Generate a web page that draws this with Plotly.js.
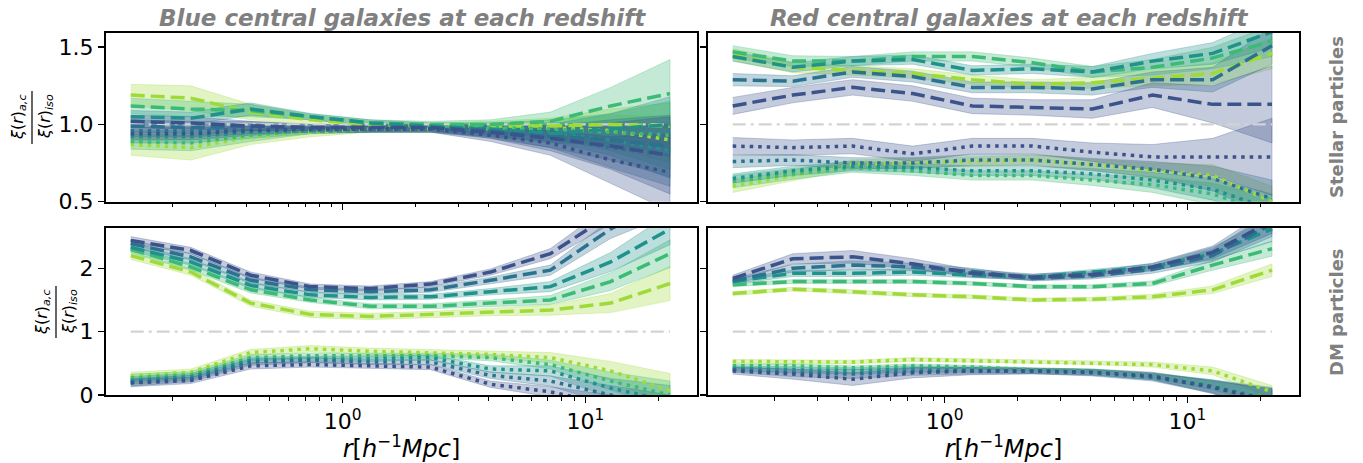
<!DOCTYPE html>
<html>
<head>
<meta charset="utf-8">
<script src="https://cdn.plot.ly/plotly-3.0.1.min.js"></script>
<style>html,body{margin:0;padding:0;background:#fff;}#chart{width:1363px;height:463px;}</style>
</head>
<body>
<div id="chart"></div>
<script>
// ---------------- DATA ----------------
const r = [0.134, 0.237, 0.418, 0.738, 1.30, 2.30, 4.06, 7.17, 12.7, 22.3];
const redshiftColors = ['#3b528b', '#2c728e', '#21918c', '#3bbb75', '#a0da39'];

// Blue centrals, stellar particles (top-left)
const blueStellarDashed = [
  [1.02, 1.01, 0.99, 0.98, 0.98, 0.98, 0.95, 0.91, 0.86, 0.80],
  [0.99, 0.98, 0.99, 0.98, 0.98, 0.98, 0.96, 0.92, 0.90, 0.86],
  [1.05, 1.04, 1.10, 1.05, 1.01, 0.99, 0.97, 0.94, 0.97, 1.00],
  [1.12, 1.10, 1.09, 1.05, 1.01, 1.00, 1.00, 1.02, 1.12, 1.20],
  [1.19, 1.17, 1.08, 1.03, 1.00, 0.99, 0.99, 0.99, 1.00, 0.99]
];
const blueStellarDotted = [
  [0.94, 0.94, 0.96, 0.97, 0.97, 0.97, 0.93, 0.88, 0.77, 0.69],
  [0.96, 0.96, 0.97, 0.97, 0.97, 0.97, 0.95, 0.92, 0.85, 0.80],
  [0.92, 0.92, 0.95, 0.96, 0.97, 0.97, 0.96, 0.95, 0.90, 0.83],
  [0.89, 0.88, 0.93, 0.96, 0.97, 0.98, 0.98, 0.97, 0.95, 0.93],
  [0.87, 0.85, 0.92, 0.95, 0.97, 0.97, 0.97, 0.98, 0.96, 0.90]
];
const blueStellarErr = [
  [0.04, 0.04, 0.03, 0.02, 0.02, 0.02, 0.04, 0.08, 0.15, 0.25],
  [0.04, 0.04, 0.03, 0.02, 0.02, 0.02, 0.04, 0.07, 0.13, 0.20],
  [0.04, 0.04, 0.04, 0.02, 0.02, 0.02, 0.04, 0.06, 0.10, 0.18],
  [0.05, 0.05, 0.04, 0.02, 0.02, 0.02, 0.03, 0.06, 0.12, 0.22],
  [0.07, 0.08, 0.05, 0.03, 0.02, 0.02, 0.03, 0.05, 0.10, 0.15]
];

// Red centrals, stellar particles (top-right)
const redStellarDashed = [
  [1.12, 1.19, 1.24, 1.20, 1.12, 1.11, 1.10, 1.19, 1.13, 1.13],
  [1.29, 1.28, 1.34, 1.31, 1.24, 1.24, 1.23, 1.29, 1.29, 1.51],
  [1.44, 1.37, 1.41, 1.42, 1.35, 1.36, 1.34, 1.41, 1.46, 1.60],
  [1.47, 1.41, 1.41, 1.44, 1.44, 1.40, 1.34, 1.37, 1.43, 1.54],
  [1.45, 1.37, 1.35, 1.33, 1.29, 1.26, 1.27, 1.30, 1.33, 1.46]
];
const redStellarDotted = [
  [0.86, 0.85, 0.86, 0.81, 0.86, 0.86, 0.82, 0.79, 0.79, 0.79],
  [0.76, 0.77, 0.75, 0.75, 0.77, 0.77, 0.74, 0.71, 0.65, 0.52],
  [0.65, 0.70, 0.73, 0.72, 0.70, 0.70, 0.68, 0.64, 0.58, 0.45],
  [0.63, 0.68, 0.72, 0.70, 0.67, 0.67, 0.64, 0.61, 0.55, 0.42],
  [0.60, 0.67, 0.74, 0.75, 0.76, 0.77, 0.74, 0.70, 0.67, 0.50]
];
const redStellarErr = [
  [0.055, 0.05, 0.05, 0.05, 0.05, 0.05, 0.06, 0.08, 0.12, 0.25],
  [0.04, 0.035, 0.035, 0.035, 0.035, 0.035, 0.04, 0.05, 0.08, 0.12],
  [0.03, 0.03, 0.03, 0.03, 0.03, 0.03, 0.035, 0.05, 0.07, 0.10],
  [0.04, 0.035, 0.03, 0.03, 0.03, 0.03, 0.035, 0.05, 0.07, 0.10],
  [0.04, 0.035, 0.03, 0.03, 0.03, 0.03, 0.035, 0.05, 0.07, 0.10]
];

// Blue centrals, DM particles (bottom-left)
const blueDMDashed = [
  [2.44, 2.28, 1.89, 1.71, 1.68, 1.75, 1.94, 2.23, 2.85, 3.40],
  [2.39, 2.18, 1.81, 1.66, 1.63, 1.66, 1.81, 1.97, 2.62, 3.10],
  [2.33, 2.10, 1.73, 1.58, 1.54, 1.55, 1.63, 1.71, 2.10, 2.62],
  [2.30, 2.02, 1.66, 1.50, 1.40, 1.40, 1.45, 1.50, 1.79, 2.23],
  [2.20, 1.94, 1.45, 1.27, 1.24, 1.27, 1.31, 1.34, 1.45, 1.76]
];
const blueDMDotted = [
  [0.19, 0.23, 0.46, 0.48, 0.46, 0.44, 0.17, 0.05, -0.15, -0.40],
  [0.20, 0.26, 0.52, 0.55, 0.52, 0.52, 0.31, 0.22, 0.00, -0.25],
  [0.23, 0.29, 0.55, 0.57, 0.57, 0.59, 0.41, 0.38, 0.11, -0.10],
  [0.27, 0.32, 0.59, 0.62, 0.62, 0.62, 0.59, 0.48, 0.22, 0.00],
  [0.30, 0.36, 0.67, 0.73, 0.69, 0.67, 0.64, 0.59, 0.38, 0.07]
];
const blueDMErr = [
  [0.06, 0.05, 0.05, 0.04, 0.04, 0.04, 0.05, 0.08, 0.15, 0.25],
  [0.06, 0.05, 0.05, 0.04, 0.04, 0.04, 0.05, 0.08, 0.15, 0.25],
  [0.06, 0.05, 0.05, 0.04, 0.04, 0.04, 0.05, 0.08, 0.15, 0.25],
  [0.06, 0.05, 0.05, 0.04, 0.04, 0.04, 0.05, 0.07, 0.14, 0.22],
  [0.06, 0.05, 0.05, 0.05, 0.05, 0.05, 0.06, 0.08, 0.15, 0.27]
];

// Red centrals, DM particles (bottom-right)
const redDMDashed = [
  [1.84, 2.15, 2.18, 2.07, 1.92, 1.86, 1.90, 2.02, 2.25, 2.75],
  [1.80, 2.00, 2.05, 2.02, 1.95, 1.84, 1.88, 1.98, 2.20, 2.70],
  [1.79, 1.92, 1.92, 1.94, 1.89, 1.86, 1.94, 2.02, 2.23, 2.62],
  [1.74, 1.79, 1.79, 1.79, 1.76, 1.71, 1.71, 1.76, 2.05, 2.31],
  [1.60, 1.67, 1.63, 1.58, 1.55, 1.50, 1.51, 1.55, 1.66, 1.97]
];
const redDMDotted = [
  [0.38, 0.33, 0.25, 0.35, 0.38, 0.38, 0.36, 0.30, 0.12, -0.10],
  [0.40, 0.35, 0.33, 0.37, 0.38, 0.38, 0.35, 0.28, 0.13, -0.10],
  [0.42, 0.40, 0.38, 0.41, 0.40, 0.38, 0.36, 0.29, 0.14, -0.08],
  [0.46, 0.46, 0.43, 0.46, 0.44, 0.40, 0.38, 0.31, 0.16, -0.05],
  [0.53, 0.52, 0.52, 0.56, 0.54, 0.53, 0.51, 0.48, 0.38, 0.05]
];
const redDMErr = [
  [0.05, 0.08, 0.10, 0.08, 0.06, 0.05, 0.05, 0.06, 0.10, 0.20],
  [0.04, 0.06, 0.07, 0.06, 0.05, 0.04, 0.05, 0.06, 0.10, 0.20],
  [0.04, 0.05, 0.05, 0.05, 0.04, 0.04, 0.04, 0.05, 0.10, 0.20],
  [0.03, 0.03, 0.03, 0.03, 0.03, 0.03, 0.03, 0.04, 0.08, 0.12],
  [0.03, 0.03, 0.03, 0.03, 0.03, 0.03, 0.03, 0.04, 0.06, 0.10]
];

const refLevel = [1, 1];
const xTickVals = [1, 10];
const xTickText = ['10<sup>0</sup>', '10<sup>1</sup>'];
const xMinorVals = [0.2,0.3,0.4,0.5,0.6,0.7,0.8,0.9,2,3,4,5,6,7,8,9,20];
const yTopTicks = [0.5, 1.0, 1.5];
const yTopText = ['0.5', '1.0', '1.5'];
const yBotTicks = [0, 1, 2];
const yBotText = ['0', '1', '2'];

// ---------------- BUILD ----------------
function hexToRgba(hex, a) {
  const n = parseInt(hex.slice(1), 16);
  return 'rgba(' + ((n >> 16) & 255) + ',' + ((n >> 8) & 255) + ',' + (n & 255) + ',' + a + ')';
}

const traces = [];
function addPanel(xa, ya, dashed, dotted, err) {
  const rr = r.slice().reverse();
  for (let c = 4; c >= 0; c--) {
    [dashed[c], dotted[c]].forEach(vals => {
      const up = vals.map((v, i) => v + err[c][i]);
      const lo = vals.map((v, i) => v - err[c][i]).reverse();
      traces.push({
        x: r.concat(rr), y: up.concat(lo), xaxis: xa, yaxis: ya,
        mode: 'lines', fill: 'toself', fillcolor: hexToRgba(redshiftColors[c], 0.3),
        line: {color: hexToRgba(redshiftColors[c], 0.35), width: 0.8},
        hoverinfo: 'skip', showlegend: false
      });
    });
  }
  traces.push({
    x: [r[0], r[r.length - 1]], y: refLevel, xaxis: xa, yaxis: ya, mode: 'lines',
    line: {color: '#d3d3d3', width: 2.2, dash: '13px,5px,3px,5px'}, showlegend: false
  });
  for (let c = 4; c >= 0; c--) {
    traces.push({
      x: r, y: dashed[c], xaxis: xa, yaxis: ya, mode: 'lines',
      line: {color: redshiftColors[c], width: 3.5, dash: '14px,6px'}, showlegend: false
    });
    traces.push({
      x: r, y: dotted[c], xaxis: xa, yaxis: ya, mode: 'lines',
      line: {color: redshiftColors[c], width: 3.5, dash: '3.5px,5px'}, showlegend: false
    });
  }
}
addPanel('x', 'y', blueStellarDashed, blueStellarDotted, blueStellarErr);
addPanel('x2', 'y2', redStellarDashed, redStellarDotted, redStellarErr);
addPanel('x3', 'y3', blueDMDashed, blueDMDotted, blueDMErr);
addPanel('x4', 'y4', redDMDashed, redDMDotted, redDMErr);

const W = 1363, H = 463;
const px = v => v / W, py = v => 1 - v / H;
const xr = [Math.log10(0.106), Math.log10(28.8)];
const FONT = 'DejaVu Sans, sans-serif';

function xAxis(domain, anchor, labels) {
  const ax = {
    type: 'log', range: xr, domain: domain, anchor: anchor,
    showline: true, mirror: true, linecolor: 'black', linewidth: 2,
    showgrid: false, zeroline: false,
    tickmode: 'array', tickvals: xTickVals, ticktext: xTickText,
    ticks: 'outside', ticklen: 6, tickwidth: 1.5, tickcolor: 'black',
    showticklabels: labels, tickfont: {family: FONT, size: 22, color: 'black'},
    minor: {tickmode: 'array', tickvals: xMinorVals, ticks: 'outside', ticklen: 3.5, tickwidth: 1, tickcolor: 'black', showgrid: false}
  };
  if (labels) {
    ax.title = {text: '<i>r</i>[<i>h</i><sup>−1</sup><i>Mpc</i>]', font: {family: FONT, size: 24, color: 'black'}, standoff: 8};
  }
  return ax;
}
function yAxis(domain, anchor, range, tv, tt, labels) {
  return {
    range: range, domain: domain, anchor: anchor,
    showline: true, mirror: true, linecolor: 'black', linewidth: 2,
    showgrid: false, zeroline: false,
    tickmode: 'array', tickvals: tv, ticktext: tt,
    ticks: 'outside', ticklen: 6, tickwidth: 1.5, tickcolor: 'black',
    showticklabels: labels, tickfont: {family: FONT, size: 22, color: 'black'}
  };
}

const xL = [px(106), px(697)], xR = [px(708), px(1299)];
const yT = [py(201.7), py(33)], yB = [py(395), py(227.7)];
const topRange = [0.5, 1.592], botRange = [0, 2.64];

const fracFont = {family: FONT, size: 16, color: 'black'};
const num = '<i>ξ</i>(<i>r</i>)<sub><i>a,c</i></sub>';
const den = '<i>ξ</i>(<i>r</i>)<sub><i>iso</i></sub>';
const titleFont = {family: FONT, size: 23, color: '#808080', weight: 'bold', style: 'italic'};
const sideFont = {family: FONT, size: 18, color: '#808080', weight: 'bold'};

const layout = {
  width: W, height: H,
  margin: {l: 0, r: 0, t: 0, b: 0},
  paper_bgcolor: 'white', plot_bgcolor: 'white',
  showlegend: false,
  xaxis: xAxis(xL, 'y', false),
  xaxis2: xAxis(xR, 'y2', false),
  xaxis3: xAxis(xL, 'y3', true),
  xaxis4: xAxis(xR, 'y4', true),
  yaxis: yAxis(yT, 'x', topRange, yTopTicks, yTopText, true),
  yaxis2: yAxis(yT, 'x2', topRange, yTopTicks, yTopText, false),
  yaxis3: yAxis(yB, 'x3', botRange, yBotTicks, yBotText, true),
  yaxis4: yAxis(yB, 'x4', botRange, yBotTicks, yBotText, false),
  annotations: [
    {text: 'Blue central galaxies at each redshift', x: px(402), y: py(18), xref: 'paper', yref: 'paper', showarrow: false, font: titleFont, xanchor: 'center', yanchor: 'middle'},
    {text: 'Red central galaxies at each redshift', x: px(1009), y: py(18), xref: 'paper', yref: 'paper', showarrow: false, font: titleFont, xanchor: 'center', yanchor: 'middle'},
    {text: 'Stellar particles', x: px(1336), y: py(117), xref: 'paper', yref: 'paper', showarrow: false, font: sideFont, textangle: -90, xanchor: 'center', yanchor: 'middle'},
    {text: 'DM particles', x: px(1336), y: py(312), xref: 'paper', yref: 'paper', showarrow: false, font: sideFont, textangle: -90, xanchor: 'center', yanchor: 'middle'},
    {text: num, x: px(18), y: py(117), xref: 'paper', yref: 'paper', showarrow: false, font: fracFont, textangle: -90, xanchor: 'center', yanchor: 'middle'},
    {text: den, x: px(45), y: py(117), xref: 'paper', yref: 'paper', showarrow: false, font: fracFont, textangle: -90, xanchor: 'center', yanchor: 'middle'},
    {text: num, x: px(42), y: py(312), xref: 'paper', yref: 'paper', showarrow: false, font: fracFont, textangle: -90, xanchor: 'center', yanchor: 'middle'},
    {text: den, x: px(69), y: py(312), xref: 'paper', yref: 'paper', showarrow: false, font: fracFont, textangle: -90, xanchor: 'center', yanchor: 'middle'}
  ],
  shapes: [
    {type: 'line', xref: 'paper', yref: 'paper', x0: px(32), x1: px(32), y0: py(91), y1: py(144), line: {color: 'black', width: 1.2}},
    {type: 'line', xref: 'paper', yref: 'paper', x0: px(56), x1: px(56), y0: py(286), y1: py(338), line: {color: 'black', width: 1.2}}
  ]
};

Plotly.newPlot('chart', traces, layout, {displayModeBar: false, staticPlot: true});
</script>
</body>
</html>
